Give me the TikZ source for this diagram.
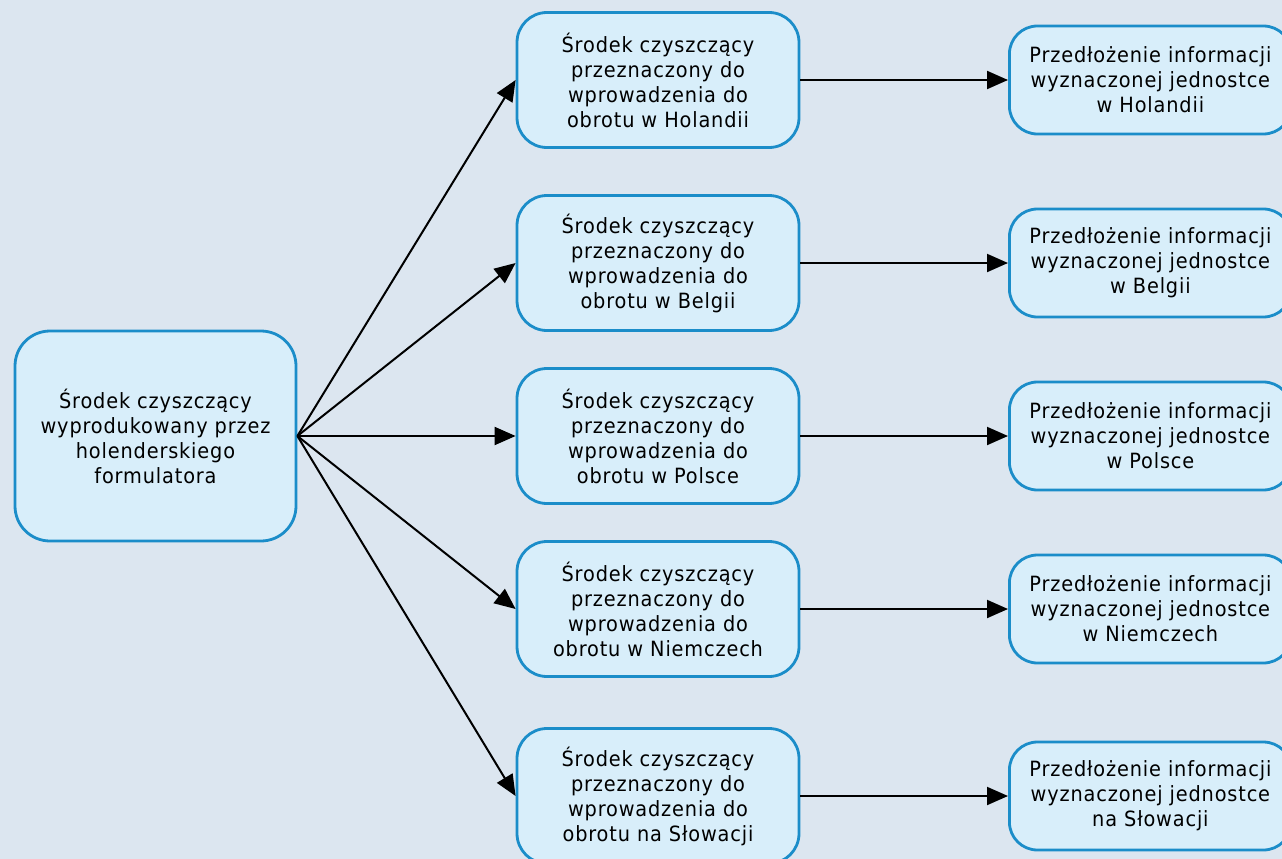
\documentclass[tikz,border=0pt]{standalone}
\usepackage{fontspec}
\setmainfont[LetterSpace=4,FakeStretch=0.92]{DejaVu Sans}
\usetikzlibrary{arrows.meta,positioning}
\definecolor{pagebg}{RGB}{220,230,240}
\definecolor{boxfill}{RGB}{216,238,250}
\definecolor{boxline}{RGB}{27,141,201}

\begin{document}
\begin{tikzpicture}[x=1pt,y=1pt,
    box/.style={draw=boxline,fill=boxfill,line width=2.8pt,rounded corners=30pt,
      align=center,inner sep=0pt,font=\fontsize{21}{25}\selectfont},
    link/.style={line width=2pt,-{Triangle[length=21pt,width=18pt]}}]
        \useasboundingbox (0,0) rectangle (1282,-859);
        \fill[pagebg] (0,0) rectangle (1282,-859);
        \node[box,rounded corners=35pt,minimum width=281pt,minimum height=210pt] (src) at (155.5,-436)
          {Środek czyszczący\\wyprodukowany przez\\holenderskiego\\formulatora};
        \foreach \c/\y [count=\i] in {w Holandii/80,w Belgii/263,w Polsce/436,w Niemczech/609,na Słowacji/796}{
          \node[box,minimum width=282pt,minimum height=135pt] (prod\i) at (658,-\y)
            {Środek czyszczący\\przeznaczony do\\wprowadzenia do\\obrotu \c};
          \node[box,rounded corners=28pt,minimum width=282pt,minimum height=108pt,anchor=west] (info\i) at (1008,-\y)
            {Przedłożenie informacji\\wyznaczonej jednostce\\\c};
          \draw[link] (src.east) -- (prod\i.west);
          \draw[link] (prod\i.east) -- (info\i.west);
        }
      \end{tikzpicture}
\end{document}
